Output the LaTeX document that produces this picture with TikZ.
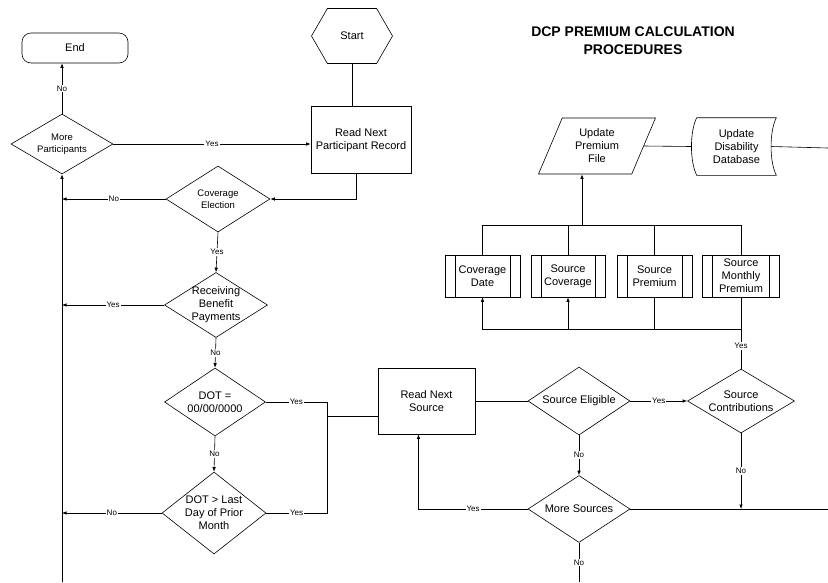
\documentclass[tikz,border=0pt]{standalone}
\usepackage{fontspec}
\setmainfont{Liberation Sans}
\usetikzlibrary{shapes.geometric,shapes.symbols,arrows.meta}

\begin{document}
\begin{tikzpicture}[x=1pt,y=-1pt,line width=0.6pt,
				every node/.style={font=\fontsize{11}{13}\selectfont,align=center},
				arr/.style={-{Latex[length=4.5pt,width=3.5pt]}},
				decision/.style={diamond,draw,inner sep=0pt},
				proc/.style={rectangle,draw},
				subproc/.style={rectangle,draw,minimum width=75pt,minimum height=42pt,inner sep=0pt,
					path picture={\draw ([xshift=10pt]path picture bounding box.north west) -- ([xshift=10pt]path picture bounding box.south west)
						([xshift=-10pt]path picture bounding box.north east) -- ([xshift=-10pt]path picture bounding box.south east);}},
				lbl/.style={fill=white,inner sep=1pt,font=\fontsize{8}{9}\selectfont}]
\useasboundingbox (0,0) rectangle (828,582);

% left column
\node[rectangle,draw,rounded corners=9pt,minimum width=106pt,minimum height=30pt] (end) at (75,48) {End};
\node[signal,signal to=east and west,signal pointer angle=120,draw,minimum width=81pt,minimum height=55pt] (start) at (352,36) {Start};
\node[proc,minimum width=100pt,minimum height=67pt] (readpart) at (361,140) {Read Next\\Participant Record};
\node[decision,minimum width=102pt,minimum height=60pt,
	label={[font=\fontsize{9.5}{12}\selectfont]center:More\\Participants}] (more) at (62,144) {};
\node[decision,minimum width=104pt,minimum height=66pt,
	label={[font=\fontsize{9.5}{12}\selectfont]center:Coverage\\Election}] (cov) at (218,199) {};
\node[decision,minimum width=103pt,minimum height=65pt,label={center:Receiving\\Benefit\\Payments}] (recv) at (216,305) {};
\node[decision,minimum width=101pt,minimum height=68pt,label={center:DOT =\\00/00/0000}] (dot) at (215,402) {};
\node[decision,minimum width=104pt,minimum height=82pt,label={center:DOT > Last\\Day of Prior\\Month}] (dotlast) at (214,513) {};

% sources
\node[proc,minimum width=97pt,minimum height=66pt] (readsrc) at (426.5,401) {Read Next\\Source};
\node[decision,minimum width=102pt,minimum height=68pt,label={center:Source Eligible}] (elig) at (579,401) {};
\node[decision,minimum width=107pt,minimum height=64pt,label={center:Source\\Contributions}] (contrib) at (741,401) {};
\node[decision,minimum width=102pt,minimum height=67pt,label={center:More Sources}] (msrc) at (579,509) {};

% premium
\node[font=\fontsize{14}{18}\selectfont\bfseries] (title) at (633,41) {DCP PREMIUM CALCULATION\\PROCEDURES};
\node[trapezium,trapezium left angle=67,trapezium right angle=113,draw,minimum width=107pt,minimum height=56pt] (upd) at (597,146) {Update\\Premium\\File};
\node[rectangle,minimum width=79pt,minimum height=57pt] (db) at (736.5,146.5) {Update\\Disability\\Database};
\draw (db.north west) -- (db.north east) .. controls +(-7,14) and +(-7,-14) .. (db.south east)
	-- (db.south west) .. controls +(-7,-14) and +(-7,14) .. (db.north west);
\node[subproc] (covdate) at (482.5,276) {Coverage\\Date};
\node[subproc,minimum width=74pt] (srccov) at (568,276) {Source\\Coverage};
\node[subproc] (srcprem) at (654.5,276) {Source\\Premium};
\node[subproc,minimum width=77pt] (srcmon) at (741,276) {Source\\Monthly\\Premium};

\coordinate (spinebot) at (62,582);
\coordinate (bustop) at (0,225);
\coordinate (busbot) at (0,329);
\coordinate (upbus) at (582,225);
\coordinate (jn) at (327,416);
\coordinate (rightdb) at (828,148);
\coordinate (rightmid) at (828,509);
\coordinate (msrcbot) at (579,582);

% connectors
\draw[arr] (more.north) -- node[lbl]{No} (more.north |- end.south);
\draw[arr] (more.east) -- node[lbl]{Yes} (more.east -| readpart.west);
\draw (start.south) -- (start.south |- readpart.north);
\draw[arr] ([xshift=-5pt]readpart.south) |- (cov.east);
\draw[arr] (spinebot) -- (more.south);
\draw[arr] (cov.west) -- node[lbl]{No} (cov.west -| spinebot);
\draw[arr] (cov.south) -- node[lbl]{Yes} (recv.north);
\draw[arr] (recv.west) -- node[lbl]{Yes} (recv.west -| spinebot);
\draw[arr] (recv.south) -- node[lbl]{No} (dot.north);
\draw[arr] (dot.south) -- node[lbl]{No} (dotlast.north);
\draw[arr] (dotlast.west) -- node[lbl]{No} (dotlast.west -| spinebot);
\draw (dot.east) -- node[lbl]{Yes} (dot.east -| jn) -- (dotlast.east -| jn) -- node[lbl]{Yes} (dotlast.east);
\draw (jn) -- (jn -| readsrc.west);
\draw (readsrc.east) -- (elig.west);
\draw[arr] (elig.east) -- node[lbl]{Yes} (contrib.west);
\draw[arr] (elig.south) -- node[lbl]{No} (msrc.north);
\draw[arr] (contrib.south) -- node[lbl]{No} (contrib.south |- msrc.east);
\draw (msrc.east) -- (rightmid);
\draw[arr] (msrc.west) -| node[lbl,pos=0.25]{Yes} ([xshift=-8pt]readsrc.south);
\draw (msrc.south) -- node[lbl]{No} (msrcbot);
\draw (contrib.north) -- node[lbl,pos=0.32]{Yes} (srcmon.south);
\draw[arr] (srcmon.south |- busbot) -| (covdate.south);
\draw[arr] (srccov.south |- busbot) -- (srccov.south);
\draw (srcprem.south) -- (srcprem.south |- busbot);
\draw (covdate.north) -- (covdate.north |- bustop) -| (srcmon.north);
\draw (srccov.north) -- (srccov.north |- bustop);
\draw (srcprem.north) -- (srcprem.north |- bustop);
\draw[arr] (upbus) -- (upbus |- upd.south);
\draw (upd.east) -- ([xshift=-5pt]db.west);
\draw ([xshift=-5pt]db.east) -- (rightdb);
\end{tikzpicture}
\end{document}
